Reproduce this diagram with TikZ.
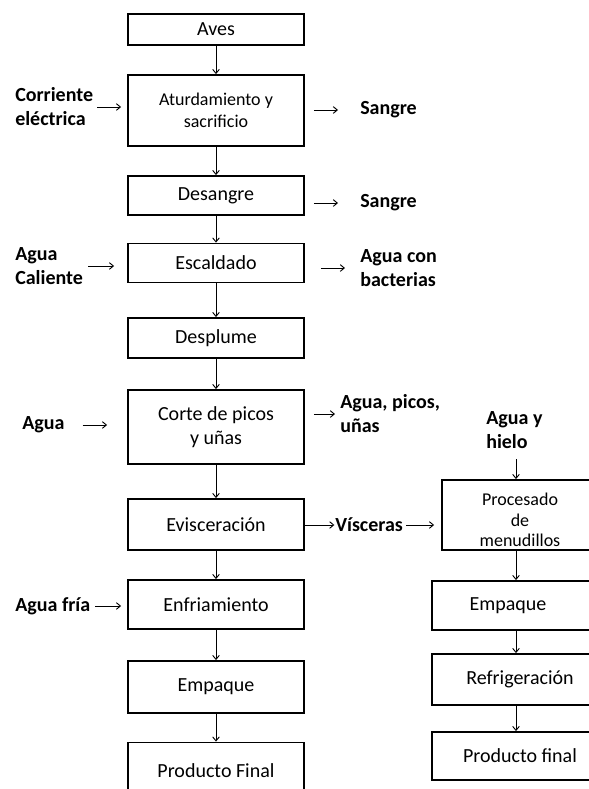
\documentclass[tikz,border=0pt]{standalone}
\usepackage{fontspec}
\setmainfont{Carlito}
\usetikzlibrary{arrows.meta, positioning}

\begin{document}
\begin{tikzpicture}[
	x=0.75pt, y=-0.75pt,
	>={Straight Barb[length=3pt,width=5pt]},
	font=\fontsize{15}{18}\selectfont,
	stepbox/.style={
		draw,
		line width=1.4pt,
		minimum width=132pt,
		align=center,
		inner sep=0pt
	},
	small/.style={
		font=\fontsize{13.5}{16.5}\selectfont
	},
	input/.style={
		font=\fontsize{15}{18}\selectfont\bfseries,
		align=left,
		inner sep=0pt,
		anchor=west
	},
	flow/.style={
		->,
		line width=0.7pt
	}
	]

	\useasboundingbox (0,0) rectangle (589,789);
	\clip (0,0) rectangle (589,789);

	%------------------------------------------------
	% MAIN LINE
	%------------------------------------------------

	\node[stepbox, minimum height=23.25pt] (aves) at (216,29.5) {Aves};
	\node[stepbox, small, minimum height=53.25pt] (aturd) at (216,110.5)
		{Aturdamiento y\\sacrificio};
	\node[stepbox, minimum height=29.25pt] (desangre) at (216,195.5) {Desangre};
	\node[stepbox, minimum height=29.25pt] (escaldado) at (216,263) {Escaldado};
	\node[stepbox, minimum height=30pt] (desplume) at (216,338) {Desplume};
	\node[stepbox, minimum height=55.5pt] (corte) at (216,427)
		{\fontsize{15}{18.75}\selectfont Corte de picos\\y uñas};
	\node[stepbox, minimum height=38.25pt] (evisc) at (216,524.5) {Evisceración};
	\node[stepbox, minimum height=36.75pt] (enfri) at (216,604.5) {Enfriamiento};
	\node[stepbox, minimum height=39pt] (empaque) at (216,687) {Empaque};
	\node[stepbox, minimum height=42.75pt] (final) at (216,771) {Producto Final};

	\foreach \a/\b in {aves/aturd, aturd/desangre, desangre/escaldado,
		escaldado/desplume, desplume/corte, corte/evisc, evisc/enfri,
		enfri/empaque, empaque/final}
		\draw[flow] (\a.south) -- (\b.north);

	%------------------------------------------------
	% MENUDILLOS LINE
	%------------------------------------------------

	\node[stepbox, small, minimum width=117pt, minimum height=52.5pt,
		font=\fontsize{13.5}{15.4}\selectfont] (proc) at (520,515)
		{\rule{0pt}{17pt}Procesado\\de\\menudillos};
	\node[stepbox, minimum height=36.75pt] (empaqueM) at (520,605.5)
		{Empaque\hspace*{18pt}};
	\node[stepbox, minimum height=38.25pt] (refrig) at (520,679.5) {Refrigeración};
	\node[stepbox, minimum height=36pt] (finalM) at (520,756) {Producto final};

	\foreach \a/\b in {proc/empaqueM, empaqueM/refrig, refrig/finalM}
		\draw[flow] ([xshift=-3pt]\a.south) -- ([xshift=-3pt]\b.north);

	%------------------------------------------------
	% INPUTS AND OUTPUTS
	%------------------------------------------------

	\node[input] (corriente) at (15,107) {Corriente\\eléctrica};
	\node[input] (sangreA) at (360,110) {Sangre};
	\node[input] (sangreB) at (360,203) {Sangre};
	\node[input] (bacterias) at (360,268) {Agua con\\bacterias};
	\node[input] (caliente) at (15,266) {Agua\\Caliente};
	\node[input] (agua) at (22,425) {Agua};
	\node[input] (picos) at (340,414) {Agua, picos,\\uñas};
	\node[input] (hielo) at (486,430) {Agua y\\hielo};
	\node[input] (visceras) at (335,525) {Vísceras};
	\node[input] (fria) at (15,606) {Agua fría};

	\draw[flow, shorten <=3pt, shorten >=4.5pt]
		(corriente.east) -- (corriente.east -| aturd.west);
	\draw[flow, shorten <=6.75pt, shorten >=16.5pt]
		(sangreA.west -| aturd.east) -- (sangreA.west);
	\draw[flow, shorten <=6.75pt, shorten >=16.5pt]
		(sangreB.west -| desangre.east) -- (sangreB.west);
	\draw[flow, shorten <=12pt, shorten >=11.25pt]
		(bacterias.west -| escaldado.east) -- (bacterias.west);
	\draw[flow, shorten <=3.75pt, shorten >=9.75pt]
		(caliente.east) -- (caliente.east -| escaldado.west);
	\draw[flow, shorten <=13.5pt, shorten >=15pt]
		(agua.east) -- (agua.east -| corte.west);
	\draw[flow, shorten <=6.75pt, shorten >=3.75pt]
		(picos.west -| corte.east) -- (picos.west);
	\draw[flow, shorten >=0.5pt]
		(visceras.west -| evisc.east) -- (visceras.west);
	\draw[flow, shorten <=2.25pt, shorten >=5.25pt]
		(visceras.east) -- (visceras.east -| proc.west);
	\draw[flow, shorten <=3.75pt, shorten >=4.5pt]
		(fria.east) -- (fria.east -| enfri.west);
	\draw[flow, shorten <=8pt]
		([xshift=-3pt]hielo.south -| proc.north) -- ([xshift=-3pt]proc.north);

\end{tikzpicture}
\end{document}
